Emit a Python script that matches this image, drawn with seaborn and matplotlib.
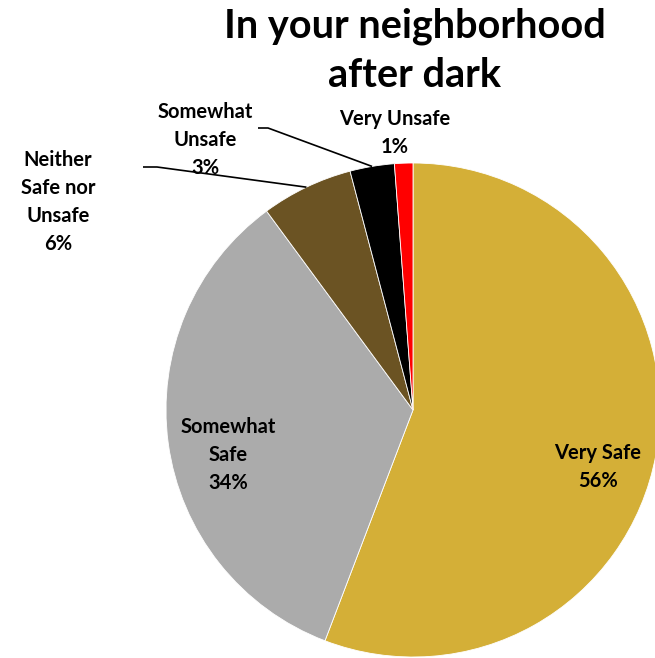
import matplotlib; matplotlib.use("Agg")
import matplotlib.pyplot as plt
import numpy as np
import seaborn as sns

# ──────────────────────────────────────────────────────────
# Data
# ──────────────────────────────────────────────────────────
TITLE = "In your neighborhood\nafter dark"
CATEGORIES = ["Very Safe", "Somewhat Safe", "Neither Safe nor Unsafe", "Somewhat Unsafe", "Very Unsafe"]
SHARES = [55.8, 34.1, 6.0, 2.9, 1.2]
PCT_LABELS = ["56%", "34%", "6%", "3%", "1%"]
LABEL_TEXT = ["Very Safe", "Somewhat\nSafe", "Neither\nSafe nor\nUnsafe", "Somewhat\nUnsafe", "Very Unsafe"]
COLORS = ["#D4AF37", "#ABABAB", "#6B5323", "#000000", "#FF0000"]

# ──────────────────────────────────────────────────────────
# Style
# ──────────────────────────────────────────────────────────
sns.set_theme(style="white")
plt.rcParams["font.family"] = ["Lato", "DejaVu Sans"]

W, H = 655, 658
CX, CY, R = 413, 410, 247


def to_data(px, py):
    return (px - CX) / R, (CY - py) / R


fig = plt.figure(figsize=(W / 100, H / 100), dpi=100)
ax = fig.add_axes([0, 0, 1, 1])

wedges, _ = ax.pie(
    SHARES,
    colors=COLORS,
    startangle=90,
    counterclock=False,
    radius=1.0,
    center=(0, 0),
    wedgeprops={"linewidth": 0.6, "edgecolor": "white"},
)
ax.set_xlim(-CX / R, (W - CX) / R)
ax.set_ylim(-(H - CY) / R, CY / R)
ax.set_aspect("equal")
ax.axis("off")

# label positions (pixel centres) and optional leader elbows
label_pos = [(598, 467), (228, 455), (58, 202), (205, 140), (395, 133)]
elbows = [None, None, ((143, 167), (157, 167)), ((258, 128), (268, 128)), None]

total = sum(SHARES)
cum = np.cumsum([0] + SHARES)
for i, (txt, pct) in enumerate(zip(LABEL_TEXT, PCT_LABELS)):
    x, y = to_data(*label_pos[i])
    ax.text(x, y, f"{txt}\n{pct}", ha="center", va="center", fontsize=14.5,
            fontweight="bold", color="black", linespacing=1.5)
    if elbows[i] is not None:
        mid = (cum[i] + cum[i + 1]) / 2 / total
        theta = np.deg2rad(90 - 360 * mid)
        ex, ey = np.cos(theta), np.sin(theta)
        (ax0, ay0), (ax1, ay1) = [to_data(*p) for p in elbows[i]]
        ax.plot([ax0, ax1, ex], [ay0, ay1, ey], color="black", linewidth=1.2,
                solid_capstyle="butt")

tx, ty = to_data(415, 51)
ax.text(tx, ty, TITLE, ha="center", va="center", fontsize=28.5,
        fontweight="bold", color="black", linespacing=1.4)

fig.savefig("out.png", dpi=100)
plt.close(fig)
